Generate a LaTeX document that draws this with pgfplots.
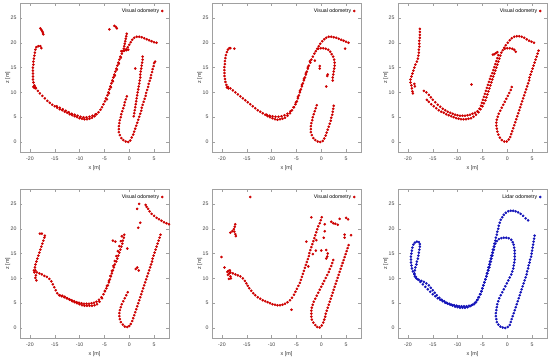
\documentclass[border=0pt]{standalone}
\usepackage{pgfplots}
\pgfplotsset{compat=1.18}
\usepackage{fontspec}
\setmainfont{Liberation Sans}
\definecolor{vo}{RGB}{205,0,0}
\definecolor{lo}{RGB}{20,20,185}
\definecolor{frame}{RGB}{160,160,160}
\pgfplotsset{
  odo/.style={
    scale only axis, width=149pt, height=149pt,
    xmin=-22, xmax=8, ymin=-2, ymax=28,
    xtick={-20,-15,-10,-5,0,5}, ytick={0,5,10,15,20,25},
    tick align=inside, major tick length=2.5pt,
    axis line style={frame}, every tick/.style={frame},
    /pgf/number format/assume math mode=true,
    tick label style={font=\fontsize{5.2}{6}\selectfont, text=black!75},
    xticklabel style={yshift=-1pt},
    label style={font=\fontsize{5.4}{6}\selectfont, text=black!80},
    xlabel={x [m]}, ylabel={z [m]},
    xlabel style={at={(axis description cs:0.5,-0.105)}, anchor=center},
    ylabel style={at={(axis description cs:-0.083,0.5)}, anchor=center},
    legend style={draw=none, fill=none, at={(0.97,0.985)}, anchor=north east,
      font=\fontsize{5.2}{6}\selectfont, inner sep=1pt},
    legend plot pos=right, legend cell align=right,
    clip=true,
  },
  vis/.style={only marks, mark=*, mark size=1.1pt, color=vo, mark options={draw=vo, fill=vo}},
  lid/.style={only marks, mark=*, mark size=1.1pt, color=lo, mark options={draw=lo, fill=lo}},
}
\begin{document}
\begin{tikzpicture}[x=1pt,y=1pt]
\useasboundingbox (0,0) rectangle (550,-359);
% ---------------- panel 1
\begin{axis}[odo, at={(20pt,-3pt)}, anchor=north west]
\addplot[vis] coordinates {
(5.5,20.0)(5.0,20.1)(4.5,20.3)(4.0,20.5)(3.5,20.7)(3.0,20.9)(2.5,21.1)(2.0,21.2)(1.5,21.2)(1.0,21.0)(0.6,20.6)(0.3,20.1)(0.0,19.6)(-0.3,19.1)(-0.6,18.7)(-1.0,18.4)
(-0.5,21.8)(-0.6,21.3)(-0.7,20.8)(-0.8,20.3)(-0.9,19.8)(-1.0,19.3)(-1.1,18.8)(-1.3,18.3)(-0.6,18.5)(-0.2,18.6)(-1.6,18.3)
(-1.5,17.8)(-1.8,17.2)(-2.0,16.6)(-2.2,16.0)(-2.4,15.4)(-2.6,14.8)(-2.8,14.2)(-3.0,13.6)(-3.2,13.0)(-3.4,12.4)(-3.6,11.8)(-3.8,11.2)(-4.0,10.6)(-4.2,10.0)(-4.4,9.4)(-4.7,8.8)(-4.9,8.2)(-5.2,7.6)(-5.5,7.0)(-5.8,6.5)(-6.2,6.0)(-6.6,5.6)
(-1.7,17.0)(-2.1,15.8)(-2.5,14.6)(-2.9,13.4)(-3.3,12.2)(-3.7,11.0)(-4.1,9.8)(-4.5,8.6)
(-7.0,5.2)(-7.5,4.9)(-8.0,4.7)(-8.5,4.6)(-9.0,4.6)(-9.5,4.7)(-10.0,4.8)(-10.5,5.0)(-11.0,5.2)(-11.5,5.4)(-12.0,5.6)(-12.5,5.9)(-13.0,6.1)(-13.5,6.4)(-14.0,6.6)(-14.5,6.9)(-15.0,7.2)(-15.5,7.5)(-16.0,7.9)(-16.5,8.3)(-17.0,8.8)(-17.5,9.3)(-18.0,9.8)(-18.4,10.3)(-18.8,10.8)(-19.1,11.4)(-19.3,12.0)(-19.4,12.6)(-19.4,13.2)(-19.4,13.8)(-19.4,14.4)(-19.4,15.0)(-19.3,15.6)(-19.3,16.2)(-19.2,16.8)(-19.1,17.4)(-19.0,18.0)(-18.9,18.6)(-18.7,19.1)(-18.3,19.3)(-17.9,19.3)(-17.7,18.9)
(-6.8,5.6)(-7.4,5.3)(-8.0,5.1)(-8.6,5.0)(-9.2,5.0)(-9.8,5.1)(-10.4,5.3)(-11.0,5.5)(-11.6,5.7)(-12.2,6.0)(-12.8,6.3)(-13.4,6.6)(-14.0,6.9)(-14.6,7.2)
(-19.3,11.1)(-18.9,11.0)(-19.1,10.9)
(-17.9,22.9)(-17.7,22.6)(-17.5,22.3)(-17.4,22.0)(-17.3,21.7)
(-4.0,22.7)(-3.0,23.4)(-2.7,23.2)(-2.5,22.9)(1.2,14.8)
(-0.5,9.2)(-0.7,8.6)(-0.9,8.0)(-1.0,7.4)(-1.2,6.8)(-1.4,6.2)(-1.6,5.6)(-1.7,5.0)(-1.9,4.4)(-2.0,3.8)(-2.1,3.2)(-2.1,2.6)(-2.1,2.0)(-1.9,1.4)(-1.6,0.8)(-1.2,0.4)(-0.7,0.1)(-0.2,0.0)(0.2,0.3)
(0.5,0.9)(0.8,1.5)(1.0,2.1)(1.2,2.7)(1.4,3.3)(1.6,3.9)(1.8,4.5)(2.0,5.1)(2.2,5.7)(2.4,6.3)(2.5,6.9)(2.7,7.5)(2.9,8.1)(3.1,8.7)(3.3,9.3)(3.4,9.9)(3.6,10.5)(3.8,11.1)(3.9,11.7)(4.1,12.3)(4.3,12.9)(4.4,13.5)(4.6,14.1)(4.7,14.7)(4.9,15.3)(5.0,15.9)(5.2,16.2)
(2.7,17.2)(2.7,16.6)(2.6,16.0)(2.5,15.4)(2.4,14.8)(2.3,14.2)(2.2,13.6)(2.2,13.0)(2.1,12.4)(2.0,11.8)(1.9,11.2)(1.8,10.6)(1.7,10.0)(1.6,9.4)(1.5,8.8)(1.4,8.2)(1.3,7.6)(1.2,7.0)(1.1,6.4)(1.0,5.8)(0.9,5.2)
};
\addlegendentry{Visual odometry}
\end{axis}
% ---------------- panel 2
\begin{axis}[odo, at={(212pt,-3pt)}, anchor=north west]
\addplot[vis] coordinates {
(5.5,20.0)(5.0,20.2)(4.5,20.4)(4.0,20.6)(3.5,20.8)(3.0,21.0)(2.5,21.1)(2.0,21.2)(1.5,21.2)(1.0,21.0)(0.6,20.7)(0.2,20.3)(-0.2,19.8)(-0.5,19.3)(-0.8,18.8)(-1.1,18.3)
(-0.6,18.8)(-0.1,18.9)(0.4,18.9)(0.9,18.8)(1.4,18.6)(1.8,18.2)(2.1,17.7)(2.4,17.2)(2.6,16.6)(2.7,16.0)(2.7,15.4)(2.6,14.8)(2.5,14.2)(2.4,13.6)(2.3,13.0)(2.3,12.4)
(4.8,18.8)(-1.3,16.4)(-0.3,15.3)(-0.3,14.8)(1.3,13.6)(1.2,13.3)(1.0,11.2)
(-1.4,17.8)(-1.7,17.2)(-2.0,16.6)(-2.2,16.0)(-2.5,15.4)(-2.7,14.8)(-2.9,14.2)(-3.1,13.6)(-3.3,13.0)(-3.5,12.4)(-3.7,11.8)(-3.9,11.2)(-4.1,10.6)(-4.3,10.0)(-4.5,9.4)(-4.7,8.8)(-4.9,8.2)(-5.2,7.6)(-5.5,7.0)(-5.9,6.4)(-6.3,5.8)(-6.8,5.3)(-7.3,4.9)(-7.8,4.7)(-8.3,4.6)(-8.8,4.5)(-9.3,4.6)(-9.8,4.8)(-10.3,5.0)(-10.8,5.2)(-11.3,5.5)(-11.8,5.8)(-12.3,6.1)(-12.8,6.4)(-13.3,6.8)(-13.8,7.2)(-14.3,7.6)(-14.8,8.0)(-15.3,8.4)(-15.8,8.8)(-16.3,9.2)(-16.8,9.6)(-17.3,10.0)(-17.8,10.4)(-18.3,10.8)(-18.8,11.1)(-19.1,11.5)(-19.3,12.1)(-19.4,12.7)(-19.5,13.3)(-19.5,13.9)(-19.5,14.5)(-19.5,15.1)(-19.4,15.7)(-19.4,16.3)(-19.3,16.9)(-19.2,17.5)(-19.0,18.1)(-18.8,18.6)(-18.5,18.9)(-18.3,18.9)(-17.5,18.8)(-19.0,11.0)(-18.7,10.8)
(-2.3,16.3)(-2.7,15.1)(-3.1,13.9)(-3.5,12.7)(-3.9,11.5)(-4.3,10.3)(-4.7,9.1)(-5.1,8.0)(-5.6,7.0)(-6.2,6.2)(-6.8,5.7)(-7.4,5.4)(-8.0,5.2)(-8.6,5.1)(-9.2,5.1)(-9.8,5.2)(-10.4,5.3)(-11.0,5.5)
(-0.9,7.4)(-1.1,6.8)(-1.3,6.2)(-1.5,5.6)(-1.7,5.0)(-1.8,4.4)(-2.0,3.8)(-2.1,3.2)(-2.1,2.6)(-2.1,2.0)(-1.9,1.4)(-1.6,0.8)(-1.2,0.4)(-0.7,0.1)(-0.2,0.0)(0.3,0.2)(0.6,0.7)(0.9,1.3)(1.1,1.9)(1.3,2.5)(1.5,3.1)(1.7,3.7)(1.9,4.3)(2.0,4.9)(2.2,5.5)(2.3,6.1)(2.4,6.7)(2.5,7.3)
};
\addlegendentry{Visual odometry}
\end{axis}
% ---------------- panel 3
\begin{axis}[odo, at={(398pt,-3pt)}, anchor=north west]
\addplot[vis] coordinates {
(5.4,20.0)(4.9,20.2)(4.4,20.4)(3.9,20.7)(3.4,21.0)(2.9,21.2)(2.4,21.3)(1.9,21.3)(1.4,21.2)(0.9,20.9)(0.5,20.5)(0.1,20.0)(-0.3,19.5)(-0.6,19.0)(-0.9,18.5)(-1.2,18.0)
(-0.5,18.8)(0.0,18.9)(0.5,18.9)(1.0,18.8)(1.4,18.6)(1.7,18.2)
(-2.0,18.1)(-2.3,17.9)(-2.6,17.7)(-2.9,17.6)
(-1.4,17.4)(-1.6,16.8)(-1.8,16.2)(-2.0,15.6)(-2.2,15.0)(-2.4,14.4)(-2.6,13.8)(-2.8,13.2)(-3.0,12.6)(-3.2,12.0)(-3.4,11.4)(-3.6,10.8)(-3.8,10.2)(-4.0,9.6)(-4.2,9.0)(-4.4,8.4)(-4.7,7.8)(-5.0,7.2)(-5.4,6.6)(-5.8,6.0)(-6.3,5.5)(-6.8,5.1)(-7.3,4.8)(-7.8,4.7)(-8.3,4.6)(-8.8,4.6)(-9.3,4.6)(-9.8,4.7)(-10.3,4.8)(-10.8,5.0)(-11.3,5.2)(-11.8,5.4)(-12.3,5.6)(-12.8,5.9)(-13.3,6.1)(-13.8,6.4)(-14.3,6.8)(-14.8,7.2)(-15.3,7.6)(-15.8,8.1)(-16.2,8.5)
(-1.8,17.5)(-2.0,16.9)(-2.2,16.3)(-2.4,15.7)(-2.6,15.1)(-2.8,14.5)(-3.0,13.9)(-3.3,13.3)(-3.5,12.7)(-3.7,12.1)(-3.9,11.5)(-4.1,10.9)(-4.3,10.3)(-4.5,9.7)(-4.7,9.1)(-4.9,8.5)(-5.1,7.9)(-5.3,7.3)(-5.6,6.7)(-6.0,6.2)(-6.5,5.9)(-7.0,5.7)(-7.5,5.5)(-8.0,5.4)(-8.5,5.3)(-9.0,5.3)(-9.5,5.3)(-10.0,5.4)(-10.5,5.5)(-11.0,5.7)(-11.5,5.9)(-12.0,6.1)(-12.5,6.4)(-13.0,6.7)(-13.5,7.1)(-14.0,7.5)(-14.5,8.0)(-15.0,8.5)(-15.4,9.0)(-15.8,9.5)(-16.3,10.0)(-16.8,10.3)
(-17.6,22.8)(-17.6,22.2)(-17.6,21.6)(-17.6,21.0)(-17.7,20.4)(-17.7,19.8)(-17.7,19.2)(-17.8,18.6)(-17.8,18.0)(-17.9,17.4)(-18.0,16.8)(-18.2,16.2)(-18.5,15.6)(-18.7,15.0)(-18.9,14.4)(-19.1,13.8)(-19.3,13.2)(-19.5,12.6)(-19.5,12.0)(-19.3,11.4)(-19.2,10.8)(-19.1,10.2)(-19.0,9.8)(-18.7,11.7)(-18.6,11.2)
(-7.2,11.6)
(6.3,18.4)(6.1,17.8)(5.9,17.2)(5.7,16.6)(5.5,16.0)(5.3,15.4)(5.1,14.8)(4.9,14.2)(4.7,13.6)(4.5,13.0)(4.4,12.4)(4.2,11.8)(4.0,11.2)(3.8,10.6)(3.6,10.0)(3.4,9.4)(3.2,8.8)(3.0,8.2)(2.8,7.6)(2.6,7.0)(2.4,6.4)(2.2,5.8)(2.0,5.2)(1.8,4.6)(1.6,4.0)(1.4,3.4)(1.2,2.8)(1.0,2.2)(0.8,1.6)(0.6,1.0)(0.3,0.5)(-0.1,0.1)(-0.6,0.1)(-1.1,0.4)(-1.5,0.9)(-1.8,1.5)(-2.0,2.1)(-2.1,2.7)(-2.2,3.3)(-2.2,3.9)(-2.1,4.5)(-1.9,5.1)(-1.7,5.7)(-1.4,6.3)(-1.1,6.9)(-0.8,7.5)(-0.5,8.1)(-0.2,8.7)(0.1,9.3)(0.4,9.9)(0.7,10.5)(0.9,11.1)
};
\addlegendentry{Visual odometry}
\end{axis}
% ---------------- panel 4
\begin{axis}[odo, at={(20pt,-189pt)}, anchor=north west]
\addplot[vis] coordinates {
(8.0,20.9)(7.5,21.1)(7.0,21.3)(6.5,21.6)(6.0,21.9)(5.5,22.2)(5.0,22.6)(4.5,23.0)(4.1,23.5)(3.8,24.0)(3.5,24.4)(3.3,24.8)(2.0,25.0)(1.6,24.0)(2.2,21.2)(1.8,20.2)
(6.3,18.8)(6.1,18.2)(5.9,17.6)(5.7,17.0)(5.5,16.4)(5.3,15.8)(5.1,15.2)(4.9,14.6)(4.7,14.0)(4.6,13.4)(4.4,12.8)(4.2,12.2)(4.0,11.6)(3.8,11.0)(3.6,10.4)(3.4,9.8)(3.2,9.2)(3.0,8.6)(2.8,8.0)(2.6,7.4)(2.4,6.8)(2.2,6.2)(2.0,5.6)(1.8,5.0)(1.6,4.4)(1.4,3.8)(1.2,3.2)(1.0,2.6)(0.8,2.0)(0.6,1.4)(0.3,0.8)(0.0,0.4)(-0.4,0.2)(-0.9,0.3)(-1.3,0.7)(-1.7,1.2)(-1.9,1.8)(-2.0,2.4)(-2.0,3.0)(-1.9,3.6)(-1.7,4.2)(-1.5,4.8)(-1.2,5.4)(-0.9,6.0)(-0.6,6.6)(-0.3,7.2)
(-1.0,18.8)(-1.1,18.2)(-1.3,17.6)(-1.4,17.0)(-1.6,16.4)(-1.8,15.8)(-2.0,15.2)(-2.2,14.6)(-2.4,14.0)(-2.6,13.4)(-2.9,12.8)(-3.1,12.2)(-3.3,11.6)(-3.5,11.0)(-3.7,10.4)(-3.9,9.8)(-4.1,9.2)(-4.3,8.6)(-4.6,8.0)(-4.9,7.4)(-5.2,6.8)(-5.6,6.2)(-6.1,5.7)(-6.6,5.3)(-7.1,5.1)(-7.6,5.0)(-8.1,4.9)(-8.6,4.9)(-9.1,4.9)(-9.6,5.0)(-10.1,5.1)(-10.6,5.2)(-11.1,5.4)(-11.6,5.6)(-12.1,5.8)(-12.6,6.0)(-13.1,6.2)(-13.6,6.4)(-14.1,6.6)(-14.5,7.0)(-14.8,7.6)(-15.1,8.2)(-15.4,8.8)(-15.7,9.4)(-16.1,9.9)(-16.6,10.3)(-17.1,10.5)(-17.6,10.8)(-18.1,11.0)(-18.6,11.2)(-18.9,11.6)(-19.0,12.2)(-18.9,12.8)(-18.7,13.4)(-18.5,14.0)(-18.3,14.6)(-18.1,15.2)(-17.9,15.8)(-17.7,16.4)(-17.5,17.0)(-17.3,17.6)(-17.1,18.2)(-17.0,18.6)(-18.0,19.0)(-17.6,19.0)
(-5.5,6.0)(-6.0,5.3)(-6.5,4.8)(-7.0,4.6)(-7.5,4.5)(-8.0,4.5)(-8.5,4.5)(-9.0,4.5)(-9.5,4.6)(-10.0,4.8)(-10.5,5.0)(-11.0,5.2)(-11.5,5.4)(-12.0,5.7)(-12.5,6.0)(-13.0,6.3)(-13.5,6.5)(-14.0,6.6)
(-1.5,18.5)(-1.7,17.5)(-2.0,16.5)(-2.3,15.5)(-2.6,14.5)(-2.9,13.5)(-3.2,12.5)(-3.5,11.5)(-3.8,10.5)(-4.1,9.5)(-4.5,8.5)(-4.9,7.5)
(-19.1,11.2)(-18.8,10.6)(-18.9,10.1)(-18.7,9.6)(-19.2,11.6)
(-3.3,17.6)(-2.8,17.4)(-0.4,16.0)(1.6,12.2)(1.3,11.9)(1.9,11.6)
};
\addlegendentry{Visual odometry}
\end{axis}
% ---------------- panel 5
\begin{axis}[odo, at={(212pt,-189pt)}, anchor=north west]
\addplot[vis] coordinates {
(0.1,22.3)(-0.1,21.7)(-0.3,21.1)(-0.6,20.5)(-0.8,19.9)(-1.0,19.3)(-1.2,18.7)(-1.4,18.1)(-1.6,17.5)(-1.8,16.9)(-2.0,16.3)(-2.2,15.7)(-2.4,15.1)(-2.5,14.5)(-2.7,13.9)(-2.9,13.3)(-3.1,12.7)(-3.3,12.1)(-3.5,11.5)(-3.7,10.9)(-3.9,10.3)(-4.1,9.7)(-4.3,9.1)(-4.6,8.5)(-4.9,7.9)(-5.2,7.3)(-5.5,6.7)(-5.9,6.1)(-6.3,5.6)(-6.8,5.2)(-7.3,4.9)(-7.8,4.7)(-8.3,4.6)(-8.8,4.6)(-9.3,4.7)(-9.8,4.8)(-10.3,5.0)(-10.8,5.2)(-11.3,5.4)(-11.8,5.6)(-12.3,5.9)(-12.8,6.2)(-13.3,6.6)(-13.7,7.0)(-14.1,7.5)(-14.5,8.0)(-14.8,8.5)(-15.1,9.0)(-15.4,9.5)(-15.8,10.0)(-16.3,10.4)(-16.8,10.6)(-17.3,10.8)(-17.8,11.0)(-18.3,11.2)(-18.7,11.5)
(-18.5,11.0)(-18.8,10.7)(-18.3,10.4)(-18.6,9.9)(-18.2,10.0)(-18.9,11.3)(-18.4,11.6)
(-19.5,12.2)(-20.1,14.3)
(-17.3,20.9)(-17.4,20.4)(-17.6,19.9)(-17.5,19.4)(-17.3,18.9)(-17.2,18.5)(-18.3,19.2)(-17.9,19.5)
(-14.3,26.4)(-6.0,3.7)(-3.0,17.4)(-2.0,22.3)
(5.5,16.7)(5.3,16.1)(5.1,15.5)(4.9,14.9)(4.7,14.3)(4.5,13.7)(4.3,13.1)(4.1,12.5)(3.9,11.9)(3.7,11.3)(3.5,10.7)(3.3,10.1)(3.1,9.5)(2.9,8.9)(2.7,8.3)(2.5,7.7)(2.3,7.1)(2.1,6.5)(1.9,5.9)(1.7,5.3)(1.5,4.7)(1.3,4.1)(1.1,3.5)(0.9,2.9)(0.8,2.3)(0.6,1.7)(0.4,1.1)(0.1,0.5)(-0.3,0.1)(-0.8,0.2)(-1.2,0.6)(-1.6,1.1)(-1.9,1.7)(-2.0,2.3)(-2.0,2.9)(-2.0,3.5)(-1.9,4.1)(-1.7,4.7)(-1.5,5.3)(-1.2,5.9)(-0.9,6.5)(-0.6,7.1)(-0.3,7.7)(0.0,8.3)(0.3,8.9)(0.6,9.5)(0.9,10.1)(1.2,10.7)(1.5,11.3)(1.7,11.9)(2.0,12.5)(2.2,13.1)(2.4,13.7)
(0.7,20.9)(0.7,19.5)(0.5,18.2)(0.0,15.6)(1.0,15.7)(1.3,15.0)(1.2,14.4)(1.0,14.0)(2.0,21.4)(2.4,21.1)(2.8,21.0)(3.3,20.8)(3.7,22.0)(5.0,22.2)(5.4,21.9)(4.7,18.8)(4.7,18.2)(6.0,18.7)(-1.0,17.7)(-1.1,15.6)(-1.7,14.9)(-2.6,12.4)
};
\addlegendentry{Visual odometry}
\end{axis}
% ---------------- panel 6
\begin{axis}[odo, at={(398pt,-189pt)}, anchor=north west]
\addplot[lid] coordinates {
(4.2,21.7)(3.7,22.1)(3.2,22.6)(2.7,23.0)(2.2,23.3)(1.7,23.5)(1.2,23.6)(0.7,23.6)(0.2,23.5)(-0.3,23.2)(-0.7,22.8)(-1.0,22.3)(-1.3,21.8)(-1.5,21.2)(-1.7,20.6)(-1.8,20.0)(-2.0,19.4)(-2.1,18.8)(-2.3,18.2)(-2.4,17.6)(-2.6,17.0)(-2.7,16.4)(-2.9,15.8)(-3.0,15.2)(-3.2,14.6)(-3.3,14.0)(-3.5,13.4)(-3.6,12.8)(-3.8,12.2)(-3.9,11.6)(-4.1,11.0)(-4.2,10.4)(-4.4,9.8)(-4.6,9.2)(-4.8,8.6)(-5.0,8.0)(-5.2,7.4)(-5.5,6.8)(-5.8,6.2)(-6.1,5.6)(-6.5,5.1)(-7.0,4.7)(-7.5,4.4)(-8.0,4.2)(-8.5,4.1)(-9.0,4.1)(-9.5,4.1)(-10.0,4.2)(-10.5,4.3)(-11.0,4.5)(-11.5,4.7)(-12.0,4.9)(-12.5,5.1)(-13.0,5.4)(-13.5,5.7)(-14.0,6.0)(-14.5,6.4)(-15.0,6.8)(-15.5,7.3)(-16.0,7.8)(-16.5,8.3)(-17.0,8.8)(-17.5,9.3)(-18.0,9.8)(-18.4,10.3)(-18.7,10.8)(-19.0,11.4)(-19.2,12.0)(-19.3,12.6)(-19.4,13.2)(-19.4,13.8)(-19.4,14.4)(-19.3,15.0)(-19.2,15.6)(-19.1,16.2)(-18.9,16.8)(-18.6,17.2)(-18.2,17.4)(-17.8,17.3)(-17.6,16.9)(-17.6,16.4)(-17.7,15.8)(-17.8,15.2)(-17.9,14.6)(-18.0,14.0)(-18.2,13.4)(-18.3,12.8)(-18.5,12.2)(-18.6,11.6)(-18.7,11.0)(-18.6,10.4)(-18.3,10.0)(-17.8,9.7)(-17.3,9.5)(-16.8,9.3)(-16.3,9.0)(-15.8,8.6)(-15.4,8.1)(-15.0,7.6)(-14.6,7.1)(-14.2,6.6)(-13.7,6.1)(-13.2,5.7)(-12.7,5.4)(-12.2,5.1)(-11.7,4.9)(-11.2,4.7)(-10.7,4.6)(-10.2,4.5)(-9.7,4.4)(-9.2,4.4)(-8.7,4.4)(-8.2,4.4)(-7.7,4.5)(-7.2,4.6)(-6.7,4.8)(-6.3,5.2)(-6.0,5.7)(-5.7,6.2)(-5.4,6.8)(-5.2,7.4)(-5.0,8.0)(-4.8,8.6)(-4.6,9.2)(-4.4,9.8)(-4.2,10.4)(-4.0,11.0)(-3.8,11.6)(-3.6,12.2)(-3.5,12.8)(-3.3,13.4)(-3.2,14.0)(-3.0,14.6)(-2.9,15.2)(-2.7,15.8)(-2.6,16.4)(-2.4,17.0)(-2.1,17.5)(-1.7,17.9)(-1.2,18.1)(-0.7,18.2)(-0.2,18.2)(0.3,18.1)(0.8,17.8)(1.1,17.3)(1.3,16.8)(1.4,16.2)(1.5,15.6)(1.5,15.0)(1.5,14.4)(1.5,13.8)(1.4,13.2)(1.3,12.6)(1.2,12.0)(1.0,11.4)(0.8,10.8)(0.5,10.2)(0.2,9.6)(-0.1,9.0)(-0.4,8.4)(-0.7,7.8)(-1.0,7.2)(-1.3,6.6)(-1.6,6.0)(-1.8,5.4)(-2.0,4.8)(-2.1,4.2)(-2.2,3.6)(-2.3,3.0)(-2.3,2.4)(-2.2,1.8)(-2.1,1.2)(-1.8,0.7)(-1.4,0.3)(-0.9,0.1)(-0.4,0.0)(0.1,0.2)(0.5,0.6)(0.7,1.2)(0.9,1.8)(1.1,2.4)(1.3,3.0)(1.5,3.6)(1.7,4.2)(1.9,4.8)(2.1,5.4)(2.3,6.0)(2.5,6.6)(2.7,7.2)(2.9,7.8)(3.1,8.4)(3.3,9.0)(3.5,9.6)(3.7,10.2)(3.9,10.8)(4.0,11.4)(4.2,12.0)(4.3,12.6)(4.5,13.2)(4.6,13.8)(4.8,14.4)(4.9,15.0)(5.0,15.6)(5.1,16.2)(5.2,16.8)(5.3,17.4)(5.4,18.0)(5.5,18.6)
};
\addlegendentry{Lidar odometry}
\end{axis}
\end{tikzpicture}
\end{document}
